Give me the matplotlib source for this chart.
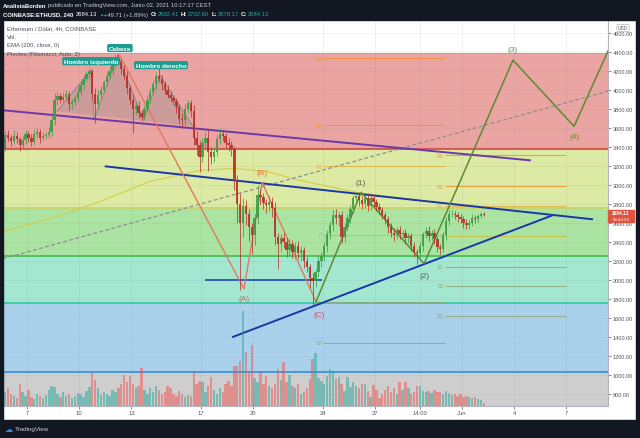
import matplotlib
matplotlib.use('Agg')
import matplotlib.pyplot as plt
import matplotlib.dates as mdates
from matplotlib.patches import Rectangle, Polygon
import numpy as np
import pandas as pd
from datetime import datetime

plt.rcParams['font.family'] = ['Liberation Sans', 'DejaVu Sans']

# ---------------- DATA ----------------
first_open = 3390
closes = [3530, 3500, 3460, 3520, 3480, 3420, 3470, 3540, 3500, 3450,
          3540, 3560, 3500, 3520, 3530, 3560, 3680, 3900, 3940, 3900,
          3930, 3960, 3850, 3870, 3920, 3980, 4050, 4120, 4170, 4200,
          3960, 3850, 3950, 4000, 4080, 4150, 4200, 4280, 4340, 4300,
          4220, 4150, 4020, 3900, 3800, 3830, 3760, 3720, 3800, 3900,
          3980, 4060, 4150, 4120, 4060, 4000, 3950, 3920, 3880, 3820,
          3700, 3680, 3800, 3860, 3780, 3500, 3420, 3300, 3440, 3500,
          3350, 3300, 3350, 3480, 3540, 3520, 3440, 3420, 3380, 3050,
          2800, 2600, 2780, 2700, 2560, 2470, 2650, 2900, 2870, 2810,
          2790, 2820, 2760, 2450, 2380, 2440, 2400, 2320, 2380, 2300,
          2360, 2280, 2320, 2200, 2140, 2020, 1990, 2080, 2200, 2250,
          2360, 2480, 2580, 2680, 2650, 2680, 2450, 2560, 2650, 2750,
          2860, 2880, 2840, 2800, 2860, 2780, 2860, 2820, 2770, 2740,
          2680, 2640, 2560, 2500, 2470, 2530, 2480, 2500, 2440, 2460,
          2360, 2300, 2280, 2360, 2480, 2520, 2460, 2500, 2430, 2350,
          2330, 2470, 2620, 2690, 2700, 2680, 2660, 2640, 2600, 2580,
          2600, 2650, 2640, 2670, 2700, 2684.13]
upper_wick = [40, 50, 30, 60, 40, 30, 50, 40, 30, 40,
              50, 40, 30, 40, 30, 50, 60, 70, 40, 30,
              50, 40, 30, 40, 30, 40, 50, 40, 30, 30,
              20, 60, 50, 40, 30, 40, 50, 40, 40, 50,
              30, 40, 50, 30, 60, 40, 50, 30, 40, 50,
              40, 50, 40, 80, 40, 30, 50, 40, 30, 40,
              30, 60, 50, 40, 30, 60, 70, 40, 50, 60,
              80, 50, 40, 50, 60, 40, 30, 50, 40, 30,
              60, 120, 80, 60, 50, 40, 50, 100, 60, 50,
              40, 60, 50, 60, 50, 40, 60, 40, 50, 40,
              40, 50, 40, 30, 40, 30, 50, 40, 50, 40,
              40, 50, 40, 60, 70, 40, 50, 40, 50, 40,
              30, 40, 50, 40, 30, 60, 30, 40, 30, 40,
              30, 40, 30, 40, 50, 30, 40, 30, 40, 30,
              30, 40, 30, 40, 30, 40, 50, 30, 40, 30,
              30, 40, 40, 50, 40, 30, 40, 30, 30, 40,
              30, 40, 30, 30, 20, 18]
lower_wick = [30, 40, 50, 30, 40, 60, 30, 40, 50, 40,
              30, 40, 60, 30, 40, 30, 40, 50, 60, 40,
              30, 40, 60, 50, 30, 40, 30, 40, 30, 40,
              60, 200, 50, 40, 30, 40, 30, 40, 50, 40,
              50, 40, 60, 50, 250, 60, 50, 50, 40, 30,
              40, 30, 50, 40, 60, 40, 30, 50, 40, 60,
              60, 80, 50, 40, 60, 80, 100, 160, 60, 50,
              200, 80, 60, 40, 50, 60, 50, 60, 70, 100,
              200, 700, 150, 120, 150, 200, 100, 60, 80, 60,
              80, 60, 100, 80, 260, 80, 60, 80, 60, 70,
              80, 60, 80, 70, 60, 100, 250, 60, 50, 60,
              50, 60, 50, 60, 60, 80, 60, 50, 40, 50,
              40, 50, 60, 50, 40, 50, 40, 50, 40, 50,
              40, 50, 60, 50, 60, 40, 50, 40, 60, 50,
              50, 60, 110, 40, 50, 40, 50, 40, 50, 60,
              60, 40, 50, 40, 30, 40, 50, 40, 50, 40,
              40, 30, 40, 30, 20, 15]
volumes = [14, 18, 12, 10, 8, 22, 14, 10, 16, 9,
           7, 12, 10, 8, 11, 16, 20, 19, 12, 9,
           14, 10, 12, 8, 10, 13, 12, 9, 15, 19,
           33, 26, 18, 11, 14, 12, 10, 16, 14, 18,
           22, 31, 24, 30, 22, 18, 20, 38, 16, 12,
           18, 14, 20, 16, 12, 14, 20, 18, 12, 10,
           15, 12, 9, 11, 10, 35, 22, 25, 24, 14,
           20, 29, 16, 12, 18, 14, 22, 25, 20, 40,
           40, 45, 95, 54, 35, 61, 28, 24, 34, 22,
           30, 20, 18, 22, 37, 26, 44, 24, 31, 20,
           18, 22, 12, 14, 18, 27, 47, 53, 28, 25,
           22, 30, 37, 35, 27, 29, 22, 15, 29, 19,
           24, 20, 18, 22, 22, 15, 9, 21, 16, 8,
           12, 16, 20, 14, 18, 12, 24, 16, 24, 18,
           12, 14, 20, 20, 15, 14, 15, 13, 16, 14,
           14, 12, 15, 13, 11, 12, 10, 12, 9, 10,
           9, 8, 9, 7, 6, 3]

# background zones (price)
band_tops = [4390, 3380, 2760, 2249, 1753, 1035]
band_bottoms = [3380, 2760, 2249, 1753, 1035, 600]
band_colors = ['#EAA4A2', '#DDEAA3', '#ABE3A3', '#A4E7D0', '#A9D1EB', '#CECECE']
band_line_colors = ['#D2504B', '#C9D36A', '#45C258', '#3DC9A4', '#3B93DC', '#3B93DC']

# EMA 200 (read points)
ema_days = [5.62, 8.32, 11.20, 14.07, 16.94, 18.84, 20.79, 22.69, 25.97, 29.59, 33.33]
ema_prices = [2510, 2647, 2827, 3038, 3154, 3175, 3143, 3048, 2922, 2837, 2763]

# Fibonacci pivots (weekly)
pivot_names = ['R3', 'R2', 'R1', 'P', 'S1', 'S2', 'S3']
pivot_w1 = [4336, 3629, 3196, 2478, 1768, 1338, 620]
pivot_w2 = [3312, 2985, 2784, 2468, 2141, 1940, 1623]
pivot_periods = [(24, 31), (31, 38)]

# drawings
neck_days, neck_prices = [5.62, 35.9], [3787, 3260]
desc_days, desc_prices = [11.52, 39.47], [3196, 2640]
asc_days, asc_prices = [18.84, 37.17], [1402, 2679]
hline_days, hline_price = [17.23, 23.95], 2003
dash_days, dash_prices = [5.62, 40.39], [2225, 3988]
abc_days = [12.34, 19.47, 20.51, 23.61]
abc_prices = [4357, 1908, 3027, 1771]
imp_days = [23.61, 26.20, 29.82, 34.93, 38.44, 40.39]
imp_prices = [1771, 2922, 2172, 4315, 3618, 4410]
hs_days = [8.72, 10.68, 10.85, 12.23, 13.67, 14.64, 16.54]
hs_prices = [3777, 4209, 3692, 4368, 3692, 4157, 3618]
hs_labels = [('Hombro izquierdo', 10.68, 4304), ('Cabeza', 12.34, 4442), ('Hombro derecho', 14.70, 4262)]
wave_labels = [('(A)', 19.47, 1803, '#B86E5E'), ('(B)', 20.51, 3133, '#E8733A'),
               ('(C)', 23.78, 1634, '#D64F6C'), ('(1)', 26.20, 3027, '#55604A'),
               ('(2)', 29.82, 2046, '#55604A'), ('(3)', 34.93, 4431, '#4E9A2F'),
               ('(4)', 38.49, 3513, '#6B8E23')]

tick_days = [7, 10, 13, 17, 20, 24, 27, 29.5833, 32, 35, 38]
tick_labels = ['7', '10', '13', '17', '20', '24', '27', '14:00', 'Jun', '4', '7']
price_ticks = list(range(800, 4601, 200))

# ---------------- FIGURE ----------------
W, H = 640, 439
fig = plt.figure(figsize=(6.4, 4.39), dpi=100, facecolor='white')


def fx(px):
    return px / W


def fy(py):
    return 1 - py / H


BASE = mdates.date2num(datetime(2021, 5, 1))


def d2n(d):
    return BASE + np.asarray(d, dtype=float) - 1


DARK = '#131722'
fig.patches.append(Rectangle((0, fy(21)), 1, 21 / H, transform=fig.transFigure, color=DARK, zorder=0))
fig.patches.append(Rectangle((0, 0), 1, (439 - 421) / H, transform=fig.transFigure, color=DARK, zorder=0))
fig.patches.append(Rectangle((0, 0), 3 / W, 1, transform=fig.transFigure, color=DARK, zorder=0))
fig.patches.append(Rectangle((fx(636), 0), 4 / W, 1, transform=fig.transFigure, color=DARK, zorder=0))

L, R, T, B = 3, 608, 21, 407
rect = [fx(L), fy(B), (R - L) / W, (B - T) / H]
ax = fig.add_axes(rect)
ax.set_facecolor('white')
YMIN, YMAX = 674, 4737
ax.set_xlim(d2n(5.62), d2n(40.39))
ax.set_ylim(YMIN, YMAX)

# bands
for top, bot, col in zip(band_tops, band_bottoms, band_colors):
    ax.axhspan(bot, top, color=col, lw=0, zorder=1)
for bot, lc in zip(band_bottoms[:-1], band_line_colors[:-1]):
    ax.axhline(bot, color=lc, lw=1.3, zorder=2)
ax.axhline(band_tops[0], color='#A8A8A8', lw=0.6, zorder=2)

# grid
for d in tick_days:
    ax.axvline(d2n(d), color='#808080', alpha=0.13, lw=0.6, zorder=2.5)
for p in price_ticks:
    ax.axhline(p, color='#808080', alpha=0.10, lw=0.6, zorder=2.5)

# H&S polygon
hs_pts = np.column_stack([d2n(hs_days), hs_prices])
ax.add_patch(Polygon(hs_pts, closed=True, facecolor='#8C8C8C', alpha=0.32, edgecolor='none', zorder=3))
ax.plot(d2n(hs_days), hs_prices, color='#8C8C8C', lw=0.7, zorder=3)

# EMA
ax.plot(d2n(ema_days), ema_prices, color='#D6CB4C', lw=0.9, alpha=0.9, zorder=3)

# pivots (only levels inside the visible price range)
piv_colors = ['#EE9636', '#EE9636', '#DDB444', '#C9C23C', '#8FAB78', '#8FAB78', '#8FAB78']
for vals, (s, e) in zip([pivot_w1, pivot_w2], pivot_periods):
    for name, v, c in zip(pivot_names, vals, piv_colors):
        if not (YMIN < v < YMAX):
            continue
        ax.hlines(v, d2n(s), d2n(e), colors=c, lw=0.8, alpha=0.85, zorder=3)
        ax.text(d2n(s) - 0.05, v, name, color=c, fontsize=3.8, ha='right', va='center', zorder=3)

# trend lines
ax.plot(d2n(dash_days), dash_prices, color='#8E8E8E', lw=0.9, ls=(0, (3, 2)), zorder=4)
ax.plot(d2n(neck_days), neck_prices, color='#6A3AA8', lw=1.4, zorder=4)
ax.plot(d2n(desc_days), desc_prices, color='#1B37A6', lw=1.4, zorder=4)
ax.plot(d2n(asc_days), asc_prices, color='#1B37A6', lw=1.4, zorder=4)
ax.hlines(hline_price, d2n(hline_days[0]), d2n(hline_days[1]), colors='#2146B4', lw=1.2, zorder=4)
ax.plot(d2n(abc_days), abc_prices, color='#E2795F', lw=1.0, zorder=4)
ax.plot(d2n(imp_days), imp_prices, color='#5E8A31', lw=1.1, zorder=4)

# candles
times = mdates.date2num(pd.date_range('2021-05-05 18:00', periods=len(closes), freq='4h').values)
o = np.array([first_open] + closes[:-1], dtype=float)
c = np.array(closes, dtype=float)
hi = np.maximum(o, c) + np.array(upper_wick)
lo = np.minimum(o, c) - np.array(lower_wick)
up = c >= o
UP, DN = '#3A9E45', '#B8302A'
cols = np.where(up, UP, DN)
ax.vlines(times, lo, hi, colors=cols, lw=0.6, zorder=6, alpha=0.88)
body = np.maximum(np.abs(c - o), 8)
ax.bar(times, body, bottom=np.minimum(o, c), width=0.135, color=cols, lw=0, zorder=7, alpha=0.88)

# labels
for txt, d, p in hs_labels:
    ax.text(d2n(d), p, txt, color='white', fontsize=4.6, weight='bold', ha='center', va='center',
            zorder=9, bbox=dict(boxstyle='round,pad=0.25', fc='#1D9D8F', ec='none'))
for txt, d, p, col in wave_labels:
    ax.text(d2n(d), p, txt, color=col, fontsize=6, ha='center', va='center', zorder=9)

# axes styling
for s in ['top', 'left']:
    ax.spines[s].set_visible(False)
for s in ['right', 'bottom']:
    ax.spines[s].set_color('#B2B5BE')
    ax.spines[s].set_linewidth(0.8)
ax.yaxis.tick_right()
ax.set_yticks(price_ticks)
ax.set_yticklabels([f'{v:.2f}' for v in price_ticks])
ax.tick_params(axis='y', labelsize=4, colors='#555555', length=2, width=0.5, pad=1.5)
ax.set_xticks(d2n(tick_days))
ax.set_xticklabels(tick_labels)
ax.tick_params(axis='x', labelsize=4.2, colors='#555555', length=2, width=0.5, pad=0.8)

# volume overlay
vax = fig.add_axes(rect, sharex=ax)
vax.set_ylim(0, 385)
vax.patch.set_alpha(0)
vax.axis('off')
vcols = np.where(up, '#26A69A', '#EF5350')
vax.bar(times, volumes, width=0.135, color=vcols, alpha=0.5, lw=0)

# legend text inside chart
leg = ['Ethereum / Dólar, 4h, COINBASE', 'Vol.', 'EMA (200, close, 0)', 'Pivotes (Fibonacci, Auto, 2)']
for k, s in enumerate(leg):
    fig.text(fx(7), fy(29 + 8.5 * k), s, fontsize=4.3, color='#50535E', va='center')

# header (pieces chained by measured width)
fig.canvas.draw()
renderer = fig.canvas.get_renderer()
header_lines = [
    (6, [('AnalistaBorden', 'white', 'bold', 2),
         ('publicado en TradingView.com, Junio 02, 2021 10:17:17 CEST', '#C9CCD4', 'normal', 0)]),
    (15, [('COINBASE:ETHUSD, 240', 'white', 'bold', 2.5),
          ('2684.13', 'white', 'normal', 1.5),
          ('▲', '#26A69A', 'normal', 1.5),
          ('+49.71 (+1.89%)', '#C9CCD4', 'normal', 2),
          ('O:', 'white', 'bold', 0.8),
          ('2692.41', '#26A69A', 'normal', 2),
          ('H:', 'white', 'bold', 0.8),
          ('2702.60', '#26A69A', 'normal', 2),
          ('L:', 'white', 'bold', 0.8),
          ('2678.17', '#26A69A', 'normal', 2),
          ('C:', 'white', 'bold', 0.8),
          ('2684.13', '#26A69A', 'normal', 0)]),
]
for y, pieces in header_lines:
    x = 3.0
    for s, col, wgt, gap in pieces:
        fsz = 3.2 if s == '▲' else 4.2
        t = fig.text(fx(x), fy(y), s, fontsize=fsz, color=col, weight=wgt, va='center')
        bb = t.get_window_extent(renderer=renderer)
        x += bb.width + gap

# right axis extras
fig.text(fx(623), fy(29), 'USD', fontsize=3.5, color='#555555', ha='center', va='center',
         bbox=dict(boxstyle='round,pad=0.2', fc='white', ec='#B2B5BE', lw=0.5))
fig.patches.append(Rectangle((fx(608), fy(223)), 26 / W, 12 / H, transform=fig.transFigure,
                             color='#E0533F', zorder=5))
fig.text(fx(621), fy(214), '2684.13', fontsize=3.4, color='white', weight='bold', ha='center', va='center', zorder=6)
fig.text(fx(621), fy(220), '03:42:50', fontsize=3.2, color='white', ha='center', va='center', zorder=6)

# footer
fig.text(fx(5), fy(430), '☁', fontsize=6, color='#2E8BE6', va='center', family='DejaVu Sans')
fig.text(fx(15), fy(430), 'TradingView', fontsize=4.5, color='#C9CCD4', va='center')

fig.savefig('out.png', dpi=100, facecolor=fig.get_facecolor())
